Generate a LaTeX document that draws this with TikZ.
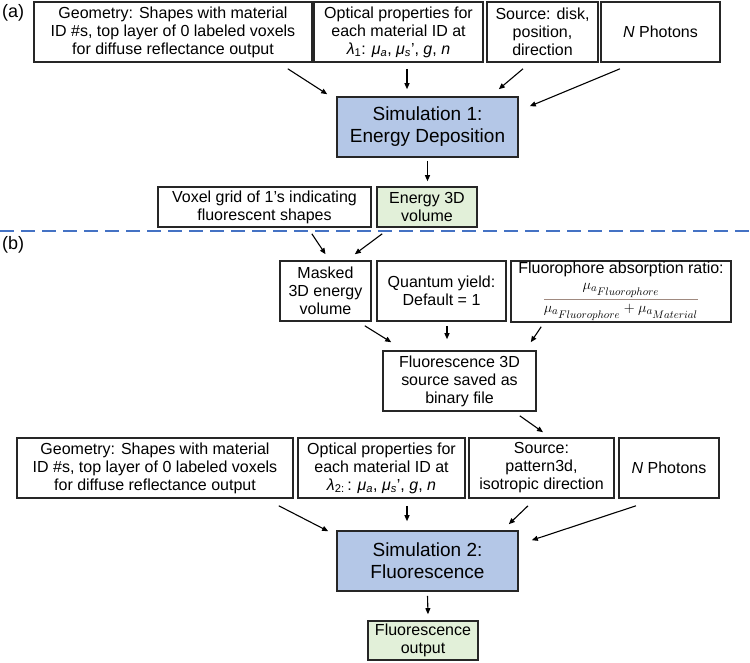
\documentclass[tikz,border=0pt]{standalone}
\usepackage{fontspec}
\setmainfont{Liberation Sans}
\usepackage{amsmath}
\usepackage{tikz}
\usetikzlibrary{arrows.meta}

\definecolor{simblue}{HTML}{B4C7E7}
\definecolor{outgreen}{HTML}{E2F0D9}
\definecolor{lineblue}{HTML}{4472C4}
\definecolor{ratiorule}{HTML}{A08A80}

\newcommand{\mua}{\textit{μ}\textsubscript{\textit{a}}}
\newcommand{\mus}{\textit{μ}\textsubscript{\textit{s}}'}

\begin{document}
\begin{tikzpicture}[
    x=1pt, y=-1pt,
    box/.style={rectangle, draw=black!85, line width=1.6pt, align=center, inner sep=2pt,
        minimum height=60pt, font=\fontsize{16}{18}\selectfont},
    sim/.style={box, fill=simblue, minimum width=181pt, font=\fontsize{19}{22}\selectfont},
    result/.style={box, fill=outgreen, minimum height=40pt},
    panel/.style={anchor=west, inner sep=0pt, font=\fontsize{18}{20}\selectfont},
    arrow/.style={-{Triangle[length=6pt,width=5pt]}, line width=1.1pt}
]
\useasboundingbox (0,0) rectangle (750,663);

\node[panel] (la) at (2,13) {(a)};
\node[panel] (lb) at (2,245) {(b)};

\node[box, minimum width=278pt] (geoA) at (173,32) {Geometry: Shapes with material\\ID \#s, top layer of 0 labeled voxels\\for diffuse reflectance output};
\node[box, minimum width=169pt] (optA) at (398.5,32) {Optical properties for\\each material ID at\\\textit{λ}\textsubscript{1}: \mua, \mus, \textit{g}, \textit{n}};
\node[box, minimum width=111pt] (srcA) at (542.5,32) {Source: disk,\\position,\\direction};
\node[box, minimum width=119pt] (photA) at (660.5,32) {\textit{N} Photons};
\node[sim] (sim1) at (427.5,127) {Simulation 1:\\Energy Deposition};
\node[box, minimum width=213pt, minimum height=40pt] (voxel) at (264.5,207) {Voxel grid of 1's indicating\\fluorescent shapes};
\node[result, minimum width=100pt] (energy) at (427,207) {Energy 3D\\volume};

\draw[lineblue, line width=1.5pt, dash pattern=on 14pt off 7pt] (0,231) -- (750,231);

\node[box, minimum width=91pt] (masked) at (325.5,291) {Masked\\3D energy\\volume};
\node[box, minimum width=129pt] (quantum) at (441.5,291) {Quantum yield:\\Default = 1};
\node[box, minimum width=220pt, minimum height=61pt, inner sep=1pt] (fluoro) at (621,291.5) {Fluorophore absorption ratio:\\[5pt]
    {\fontsize{15}{15}\selectfont\color{ratiorule}$\dfrac{\color{black}\mu_{a_{\scriptstyle Fluorophore}}}{\color{black}\mu_{a_{\scriptstyle Fluorophore}}+\mu_{a_{\scriptstyle Material}}}$}};
\node[box, minimum width=153pt] (fsrc) at (459.5,381) {Fluorescence 3D\\source saved as\\binary file};

\node[box, minimum width=276pt] (geoB) at (155,468) {Geometry: Shapes with material\\ID \#s, top layer of 0 labeled voxels\\for diffuse reflectance output};
\node[box, minimum width=167pt] (optB) at (381.5,468) {Optical properties for\\each material ID at\\\textit{λ}\textsubscript{2:}\,: \mua, \mus, \textit{g}, \textit{n}};
\node[box, minimum width=145pt] (srcB) at (541.5,468) {Source:\\pattern3d,\\isotropic direction};
\node[box, minimum width=100pt] (photB) at (669,468) {\textit{N} Photons};
\node[sim] (sim2) at (427.5,561) {Simulation 2:\\Fluorescence};
\node[result, minimum width=110pt, minimum height=39pt] (flout) at (423,640.5) {Fluorescence\\output};

\draw[arrow] ([xshift=-25pt,yshift=-6pt]geoA.south east) -- ([xshift=-9pt,yshift=2pt]sim1.north west);
\draw[arrow] ([xshift=8.5pt,yshift=-6pt]optA.south) -- ([xshift=-20.5pt,yshift=7pt]sim1.north);
\draw[arrow] ([xshift=-19.5pt,yshift=-6pt]srcA.south) -- ([xshift=-20pt,yshift=7pt]sim1.north east);
\draw[arrow] ([xshift=-40.5pt,yshift=-6pt]photA.south) -- ([xshift=11pt,yshift=-10pt]sim1.north east);
\draw[arrow] ([yshift=-3pt]sim1.south) -- ([xshift=0.5pt,yshift=5pt]energy.north);

\draw[arrow] ([xshift=-60pt,yshift=-6pt]voxel.south east) -- ([yshift=6pt]masked.north);
\draw[arrow] ([xshift=6pt,yshift=-6pt]energy.south west) -- ([xshift=-17pt,yshift=6pt]masked.north east);
\draw[arrow] ([xshift=-7pt,yshift=-4pt]masked.south east) -- ([xshift=9pt,yshift=8pt]fsrc.north west);
\draw[arrow] ([xshift=5.5pt,yshift=-4pt]quantum.south) -- ([xshift=-12.5pt,yshift=11pt]fsrc.north);
\draw[arrow] ([xshift=31pt,yshift=-4pt]fluoro.south west) -- ([xshift=-6pt,yshift=8pt]fsrc.north east);
\draw[arrow] ([xshift=-17pt,yshift=-4pt]fsrc.south east) -- ([xshift=1.5pt,yshift=5pt]srcB.north);

\draw[arrow] ([xshift=-15pt,yshift=-7pt]geoB.south east) -- ([xshift=-8pt,yshift=-1pt]sim2.north west);
\draw[arrow] ([xshift=25.5pt,yshift=-7pt]optB.south) -- ([xshift=-20.5pt,yshift=9pt]sim2.north);
\draw[arrow] ([xshift=-13.5pt,yshift=-7pt]srcB.south) -- ([xshift=-10pt,yshift=6pt]sim2.north east);
\draw[arrow] ([xshift=-33pt,yshift=-7pt]photB.south) -- ([xshift=13pt,yshift=-10pt]sim2.north east);
\draw[arrow] ([yshift=-4pt]sim2.south) -- ([xshift=5pt,yshift=6pt]flout.north);
\end{tikzpicture}
\end{document}
